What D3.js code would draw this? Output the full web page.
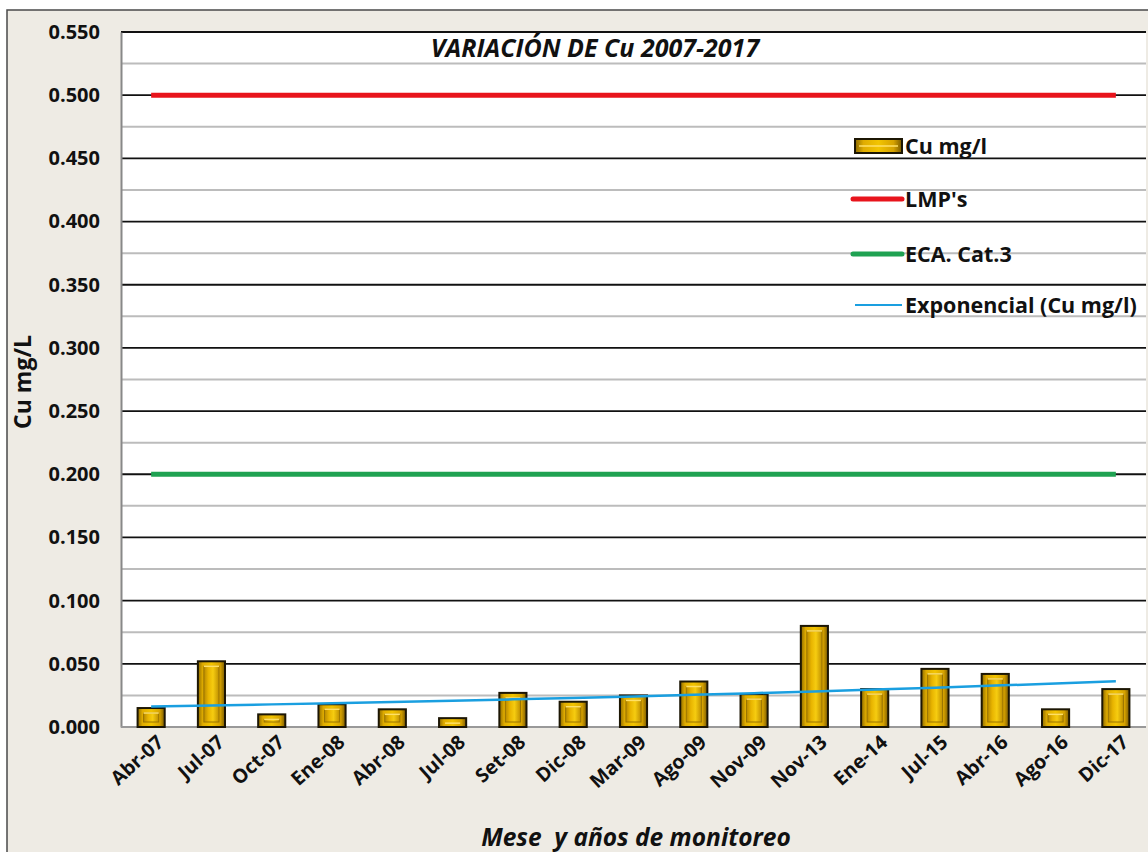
<!DOCTYPE html>
<html lang="es">

<head>
    <meta charset="UTF-8">
    <title>Variación de Cu 2007-2017</title>
    <script src="https://d3js.org/d3.v7.min.js"></script>
    <style>
        body { margin: 0; background: #fff; }
        svg { display: block; font-family: "Open Sans", sans-serif; }
    </style>
</head>

<body>
    <svg id="chart" width="1148" height="852"></svg>

    <script>
        // data
        var months = ['Abr-07', 'Jul-07', 'Oct-07', 'Ene-08', 'Abr-08', 'Jul-08', 'Set-08', 'Dic-08', 'Mar-09',
            'Ago-09', 'Nov-09', 'Nov-13', 'Ene-14', 'Jul-15', 'Abr-16', 'Ago-16', 'Dic-17'];
        var cu = [0.015, 0.052, 0.010, 0.018, 0.014, 0.007, 0.027, 0.020, 0.025,
            0.036, 0.026, 0.080, 0.030, 0.046, 0.042, 0.014, 0.030];
        var lmp = 0.500;
        var eca = 0.200;
        var yTicks = [0, 0.05, 0.10, 0.15, 0.20, 0.25, 0.30, 0.35, 0.40, 0.45, 0.50, 0.55];
        var legendLabels = ['Cu mg/l', "LMP's", 'ECA. Cat.3', 'Exponencial (Cu mg/l)'];

        var svg = d3.select('#chart');
        var plot = { left: 121, right: 1146, top: 32, bottom: 727 };

        // gradients for the bevelled gold bars
        var defs = svg.append('defs');
        var g1 = defs.append('linearGradient').attr('id', 'gold');
        [[0, '#8c6a00'], [0.18, '#e0ac00'], [0.5, '#f2c400'], [0.82, '#d6a200'], [1, '#7a5a00']].forEach(function (s) {
            g1.append('stop').attr('offset', s[0]).attr('stop-color', s[1]);
        });
        var g2 = defs.append('linearGradient').attr('id', 'goldIn');
        [[0, '#b88a00'], [0.3, '#e8b400'], [0.6, '#f6cc10'], [1, '#c09000']].forEach(function (s) {
            g2.append('stop').attr('offset', s[0]).attr('stop-color', s[1]);
        });

        // outer chart area
        svg.append('rect').attr('x', 7).attr('y', 10).attr('width', 1150).attr('height', 850)
            .attr('fill', '#eeebe4').attr('stroke', '#4a4a4a').attr('stroke-width', 1.5);
        svg.append('rect').attr('x', plot.left).attr('y', plot.top)
            .attr('width', plot.right - plot.left).attr('height', plot.bottom - plot.top)
            .attr('fill', '#fff');

        var x = d3.scaleBand().domain(months).range([plot.left, plot.right]).paddingInner(0.55).paddingOuter(0.275);
        var y = d3.scaleLinear().domain([0, 0.55]).range([plot.bottom, plot.top]);

        // minor gridlines (gray) and major (black)
        var minor = d3.range(0.025, 0.55, 0.05);
        svg.append('g').selectAll('line').data(minor).join('line')
            .attr('x1', plot.left).attr('x2', plot.right)
            .attr('y1', d => y(d)).attr('y2', d => y(d))
            .attr('stroke', '#bcbcbc').attr('stroke-width', 2);
        svg.append('g').selectAll('line').data(yTicks.slice(1)).join('line')
            .attr('x1', plot.left).attr('x2', plot.right)
            .attr('y1', d => y(d)).attr('y2', d => y(d))
            .attr('stroke', '#111').attr('stroke-width', 1.8);

        // y axis
        var yAxis = svg.append('g').attr('transform', 'translate(' + plot.left + ',0)')
            .call(d3.axisLeft(y).tickValues(yTicks).tickFormat(d3.format('.3f')).tickSize(0).tickPadding(21));
        yAxis.select('.domain').attr('stroke', '#888').attr('stroke-width', 2);
        yAxis.selectAll('text').attr('font-size', 20).attr('font-weight', 700).attr('fill', '#111')
            .attr('font-family', '"Open Sans", sans-serif');

        // bottom axis line
        svg.append('line').attr('x1', plot.left).attr('x2', plot.right)
            .attr('y1', plot.bottom).attr('y2', plot.bottom).attr('stroke', '#999').attr('stroke-width', 2);

        // bars
        var bars = svg.append('g').selectAll('g').data(cu).join('g');
        bars.append('rect')
            .attr('x', (d, i) => x(months[i]))
            .attr('y', d => y(d))
            .attr('width', x.bandwidth())
            .attr('height', d => y(0) - y(d))
            .attr('fill', 'url(#gold)').attr('stroke', '#1c1604').attr('stroke-width', 2);
        bars.append('rect')
            .attr('x', (d, i) => x(months[i]) + 6)
            .attr('y', d => y(d) + 5)
            .attr('width', x.bandwidth() - 12)
            .attr('height', d => Math.max(0, y(0) - y(d) - 10))
            .attr('fill', 'url(#goldIn)').attr('stroke', '#9a7400').attr('stroke-width', 1);
        bars.append('line')
            .attr('x1', (d, i) => x(months[i]) + 6).attr('x2', (d, i) => x(months[i]) + x.bandwidth() - 6)
            .attr('y1', d => y(d) + 5).attr('y2', d => y(d) + 5)
            .attr('stroke', '#ffe066').attr('stroke-width', 1.5);

        var first = x(months[0]) + x.bandwidth() / 2;
        var last = x(months[months.length - 1]) + x.bandwidth() / 2;

        // limit lines
        svg.append('line').attr('x1', first).attr('x2', last).attr('y1', y(lmp)).attr('y2', y(lmp))
            .attr('stroke', '#e8141c').attr('stroke-width', 5);
        svg.append('line').attr('x1', first).attr('x2', last).attr('y1', y(eca)).attr('y2', y(eca))
            .attr('stroke', '#1fa252').attr('stroke-width', 5);

        // exponential trendline (least squares on ln y, like Excel)
        var xs = cu.map((d, i) => i + 1);
        var ls = cu.map(d => Math.log(d));
        var mx = d3.mean(xs), ml = d3.mean(ls);
        var b = d3.sum(xs, (v, i) => (v - mx) * (ls[i] - ml)) / d3.sum(xs, v => (v - mx) * (v - mx));
        var a = ml - b * mx;
        var trend = months.map((m, i) => [x(m) + x.bandwidth() / 2, Math.exp(a + b * (i + 1))]);
        svg.append('path').datum(trend)
            .attr('d', d3.line().x(d => d[0]).y(d => y(d[1])))
            .attr('fill', 'none').attr('stroke', '#1a9fe0').attr('stroke-width', 2.5);

        // x tick labels
        svg.append('g').selectAll('text').data(months).join('text')
            .attr('transform', d => 'translate(' + (x(d) + x.bandwidth() / 2 + 14) + ',744) rotate(-42)')
            .attr('text-anchor', 'end')
            .attr('font-size', 19.5).attr('font-weight', 700).attr('fill', '#111')
            .text(d => d);

        // titles
        svg.append('text').attr('x', 595).attr('y', 57).attr('text-anchor', 'middle')
            .attr('font-size', 25).attr('font-weight', 700).attr('font-style', 'italic').attr('fill', '#111')
            .text('VARIACIÓN DE Cu 2007-2017');
        svg.append('text').attr('transform', 'translate(31,382) rotate(-90)').attr('text-anchor', 'middle')
            .attr('font-size', 23).attr('font-weight', 700).attr('fill', '#111')
            .text('Cu mg/L');
        svg.append('text').attr('x', 636).attr('y', 846).attr('text-anchor', 'middle')
            .attr('font-size', 24.5).attr('font-weight', 700).attr('font-style', 'italic').attr('fill', '#111')
            .style('white-space', 'pre')
            .text('Mese  y años de monitoreo');

        // legend
        var legY = [146, 199, 254, 305];
        var leg = svg.append('g');
        leg.append('rect').attr('x', 855).attr('y', legY[0] - 7).attr('width', 47).attr('height', 14)
            .attr('fill', 'url(#gold)').attr('stroke', '#1c1604').attr('stroke-width', 2);
        leg.append('line').attr('x1', 859).attr('x2', 898).attr('y1', legY[0]).attr('y2', legY[0])
            .attr('stroke', '#ffe066').attr('stroke-width', 1.5);
        leg.append('line').attr('x1', 853).attr('x2', 902).attr('y1', legY[1]).attr('y2', legY[1])
            .attr('stroke', '#e8141c').attr('stroke-width', 5).attr('stroke-linecap', 'round');
        leg.append('line').attr('x1', 853).attr('x2', 902).attr('y1', legY[2]).attr('y2', legY[2])
            .attr('stroke', '#1fa252').attr('stroke-width', 5).attr('stroke-linecap', 'round');
        leg.append('line').attr('x1', 855).attr('x2', 902).attr('y1', legY[3]).attr('y2', legY[3])
            .attr('stroke', '#1a9fe0').attr('stroke-width', 2);
        leg.selectAll('text').data(legendLabels).join('text')
            .attr('x', 905).attr('y', (d, i) => legY[i] + 8)
            .attr('font-size', 21.5).attr('font-weight', 700).attr('fill', '#111')
            .text(d => d);
    </script>
</body>

</html>
